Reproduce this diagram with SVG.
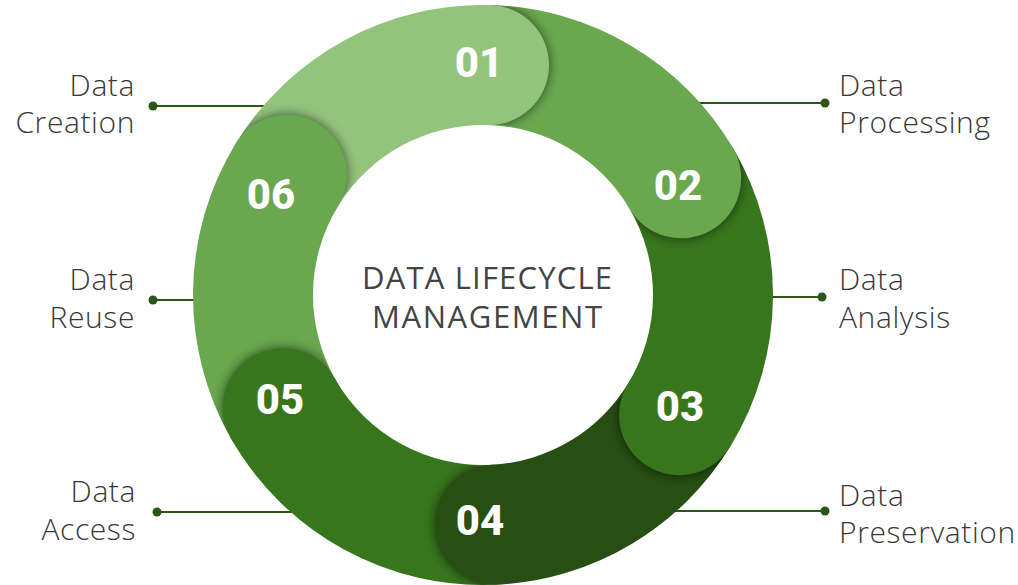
<svg xmlns="http://www.w3.org/2000/svg" xmlns:xlink="http://www.w3.org/1999/xlink" width="1018" height="585" viewBox="0 0 1018 585">
  <style>
    .lbl { font-family: "Open Sans", "Liberation Sans", sans-serif; font-size: 30px; font-weight: 300; fill: #383838; letter-spacing: 0.6px; }
    .lbl-l { text-anchor: end; }
    .lbl-r { text-anchor: start; }
    .num { font-family: Roboto, "Liberation Sans", sans-serif; font-size: 42px; font-weight: 800; fill: #ffffff; text-anchor: middle; }
    .title { font-family: "Open Sans", "Liberation Sans", sans-serif; font-size: 31px; font-weight: 400; fill: #444444; text-anchor: middle; }
    .conn { stroke: #2b5716; stroke-width: 2; fill: none; }
    .dot { fill: #2b5716; }
    .c1 { fill: #93c47d; }
    .c2 { fill: #6aa84f; }
    .c3 { fill: #38761d; }
    .c4 { fill: #274e13; }
  </style>
  <defs>
    <filter id="sh" x="-50%" y="-50%" width="200%" height="200%">
      <feGaussianBlur in="SourceAlpha" stdDeviation="6"/>
      <feComponentTransfer>
        <feFuncA type="linear" slope="0.6"/>
      </feComponentTransfer>
    </filter>
    <clipPath id="cw" clipPathUnits="userSpaceOnUse">
      <rect x="483" y="-150" width="450" height="450"/>
    </clipPath>
    <clipPath id="ringclip" clipPathUnits="userSpaceOnUse">
      <path clip-rule="evenodd" d="M 193 295 A 290 290 0 1 0 773 295 A 290 290 0 1 0 193 295 Z M 312 295 A 171 171 0 1 0 654 295 A 171 171 0 1 0 312 295 Z"/>
    </clipPath>
    <circle id="cap" cx="483" cy="65" r="60"/>
  </defs>

  <rect width="1018" height="585" fill="#ffffff"/>

  <g id="connectors">
    <line class="conn" x1="153" y1="106" x2="330" y2="106"/>
    <circle class="dot" cx="153" cy="106" r="4.5"/>
    <line class="conn" x1="153" y1="300" x2="250" y2="300"/>
    <circle class="dot" cx="153" cy="300" r="4.5"/>
    <line class="conn" x1="157" y1="512" x2="330" y2="512"/>
    <circle class="dot" cx="157" cy="512" r="4.5"/>
    <line class="conn" x1="650" y1="103" x2="825" y2="103"/>
    <circle class="dot" cx="825" cy="103" r="4.5"/>
    <line class="conn" x1="720" y1="297" x2="822" y2="297"/>
    <circle class="dot" cx="822" cy="297" r="4.5"/>
    <line class="conn" x1="640" y1="511" x2="825" y2="511"/>
    <circle class="dot" cx="825" cy="511" r="4.5"/>
  </g>

  <g id="ring-segments">
    <path id="seg-01" class="c1" d="M 235.73 143.47 A 290 290 0 0 1 490.59 5.10 L 487.45 125.06 A 170 170 0 0 0 338.05 206.17 Z"/>
    <path id="seg-02" class="c2" d="M 490.59 5.10 A 290 290 0 0 1 732.87 147.81 L 629.48 208.72 A 170 170 0 0 0 487.45 125.06 Z"/>
    <path id="seg-03" class="c3" d="M 732.87 147.81 A 290 290 0 0 1 730.27 446.53 L 627.95 383.83 A 170 170 0 0 0 629.48 208.72 Z"/>
    <path id="seg-04" class="c4" d="M 730.27 446.53 A 290 290 0 0 1 498.18 584.60 L 491.90 464.77 A 170 170 0 0 0 627.95 383.83 Z"/>
    <path id="seg-05" class="c3" d="M 498.18 584.60 A 290 290 0 0 1 230.60 437.80 L 335.04 378.71 A 170 170 0 0 0 491.90 464.77 Z"/>
    <path id="seg-06" class="c2" d="M 230.60 437.80 A 290 290 0 0 1 235.73 143.47 L 338.05 206.17 A 170 170 0 0 0 335.04 378.71 Z"/>
  </g>

  <g id="node-01">
    <g transform="rotate(1.5 483 295)">
      <g clip-path="url(#ringclip)"><use xlink:href="#cap" href="#cap" filter="url(#sh)" clip-path="url(#cw)"/></g>
      <use xlink:href="#cap" href="#cap" class="c1"/>
    </g>
    <text class="num" x="479" y="77">01</text>
  </g>
  <g id="node-02">
    <g transform="rotate(59.5 483 295)">
      <g clip-path="url(#ringclip)"><use xlink:href="#cap" href="#cap" filter="url(#sh)" clip-path="url(#cw)"/></g>
      <use xlink:href="#cap" href="#cap" class="c2"/>
    </g>
    <text class="num" x="678" y="200">02</text>
  </g>
  <g id="node-03">
    <g transform="rotate(121.5 483 295)">
      <g clip-path="url(#ringclip)"><use xlink:href="#cap" href="#cap" filter="url(#sh)" clip-path="url(#cw)"/></g>
      <use xlink:href="#cap" href="#cap" class="c3"/>
    </g>
    <text class="num" x="680" y="421">03</text>
  </g>
  <g id="node-04">
    <g transform="rotate(177 483 295)">
      <g clip-path="url(#ringclip)"><use xlink:href="#cap" href="#cap" filter="url(#sh)" clip-path="url(#cw)"/></g>
      <use xlink:href="#cap" href="#cap" class="c4"/>
    </g>
    <text class="num" x="480" y="535">04</text>
  </g>
  <g id="node-05">
    <g transform="rotate(240.5 483 295)">
      <g clip-path="url(#ringclip)"><use xlink:href="#cap" href="#cap" filter="url(#sh)" clip-path="url(#cw)"/></g>
      <use xlink:href="#cap" href="#cap" class="c3"/>
    </g>
    <text class="num" x="280" y="414">05</text>
  </g>
  <g id="node-06">
    <g transform="rotate(301.5 483 295)">
      <g clip-path="url(#ringclip)"><use xlink:href="#cap" href="#cap" filter="url(#sh)" clip-path="url(#cw)"/></g>
      <use xlink:href="#cap" href="#cap" class="c2"/>
    </g>
    <text class="num" x="271" y="209">06</text>
  </g>

  <g id="title">
    <text class="title" x="487" y="289" textLength="250" lengthAdjust="spacing">DATA LIFECYCLE</text>
    <text class="title" x="487" y="328" textLength="230" lengthAdjust="spacing">MANAGEMENT</text>
  </g>

  <g id="label-creation">
    <text class="lbl lbl-l" x="135" y="96">Data</text>
    <text class="lbl lbl-l" x="135" y="133">Creation</text>
  </g>
  <g id="label-reuse">
    <text class="lbl lbl-l" x="135" y="290">Data</text>
    <text class="lbl lbl-l" x="135" y="328">Reuse</text>
  </g>
  <g id="label-access">
    <text class="lbl lbl-l" x="136" y="502">Data</text>
    <text class="lbl lbl-l" x="136" y="540">Access</text>
  </g>
  <g id="label-processing">
    <text class="lbl lbl-r" x="839" y="96">Data</text>
    <text class="lbl lbl-r" x="839" y="133">Processing</text>
  </g>
  <g id="label-analysis">
    <text class="lbl lbl-r" x="839" y="290">Data</text>
    <text class="lbl lbl-r" x="839" y="328">Analysis</text>
  </g>
  <g id="label-preservation">
    <text class="lbl lbl-r" x="839" y="506">Data</text>
    <text class="lbl lbl-r" x="839" y="543">Preservation</text>
  </g>
</svg>
